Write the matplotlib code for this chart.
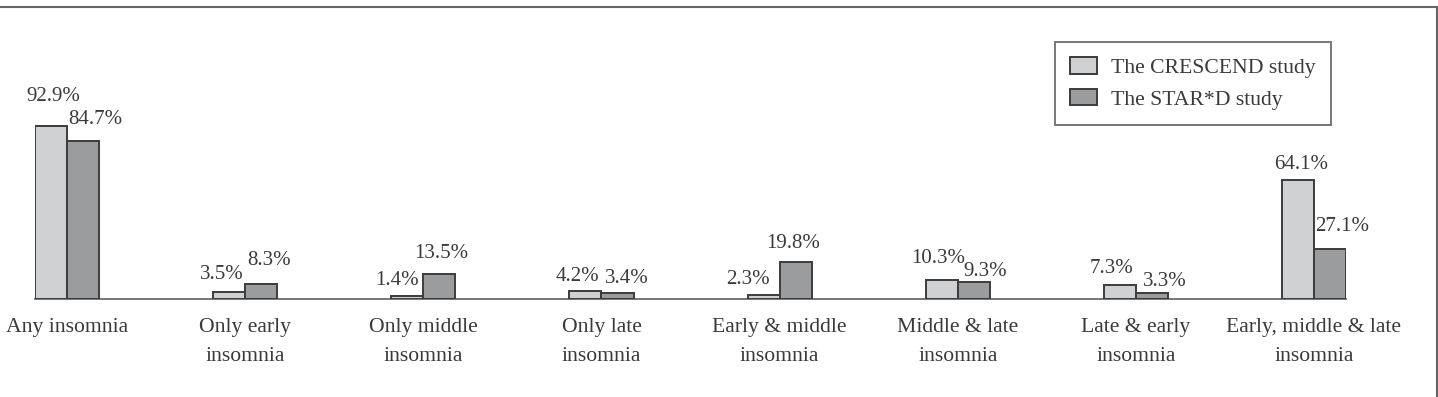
import matplotlib
matplotlib.use("Agg")
import matplotlib.pyplot as plt
from matplotlib.lines import Line2D
import numpy as np

categories = ["Any insomnia", "Only early\ninsomnia", "Only middle\ninsomnia", "Only late\ninsomnia",
              "Early & middle\ninsomnia", "Middle & late\ninsomnia", "Late & early\ninsomnia",
              "Early, middle & late\ninsomnia"]
crescend = [92.9, 3.5, 1.4, 4.2, 2.3, 10.3, 7.3, 64.1]
stard = [84.7, 8.3, 13.5, 3.4, 19.8, 9.3, 3.3, 27.1]
series_names = ["The CRESCEND study", "The STAR*D study"]

# label offsets (pixels) relative to bar top centre
crescend_off = [(2, 30), (-7, 18), (-10, 16), (-8, 15), (-16, 15), (-3, 21), (-8, 17), (3, 15)]
stard_off = [(12, 22), (8, 23), (2, 20), (9, 14), (-2, 19), (11, 10), (13, 11), (12, 22)]

W, H = 1438, 397
fig = plt.figure(figsize=(W / 100, H / 100), dpi=100)
plt.rcParams['font.family'] = ['Liberation Serif', 'DejaVu Serif']
txt = '#3a3a3a'

bw = 0.18
ax_left, ax_right = 35 / W, 1346 / W
ax_bottom = 1 - 299 / H
ax_top = 1 - 113 / H
ax = fig.add_axes([ax_left, ax_bottom, ax_right - ax_left, ax_top - ax_bottom])

x = np.arange(len(categories))
b1 = ax.bar(x - bw / 2, crescend, bw, color='#d0d1d3', edgecolor='#3c3c3c', linewidth=1.4,
            label=series_names[0], zorder=3)
b2 = ax.bar(x + bw / 2, stard, bw, color='#9b9c9e', edgecolor='#3c3c3c', linewidth=1.4,
            label=series_names[1], zorder=3)

for bars, vals, offs in ((b1, crescend, crescend_off), (b2, stard, stard_off)):
    for b, v, (dx, dy) in zip(bars, vals, offs):
        ax.annotate(f"{v:.1f}%", xy=(b.get_x() + b.get_width() / 2, v), xytext=(dx, dy),
                    textcoords='offset pixels', ha='center', va='center', fontsize=15,
                    color=txt, annotation_clip=False)

ax.set_xlim(-bw, len(categories) - 1 + bw)
ax.set_ylim(0, 100)
for s in ['top', 'right', 'left']:
    ax.spines[s].set_visible(False)
ax.spines['bottom'].set_color('#777777')
ax.spines['bottom'].set_linewidth(1.4)
ax.set_yticks([])
ax.set_xticks(x)
ax.set_xticklabels(categories, fontsize=15.6, color=txt, linespacing=1.7)
ax.tick_params(axis='x', length=0, pad=14)
ax.patch.set_visible(False)

leg = fig.legend(handles=[b1, b2], labels=series_names, loc='upper left',
                 bbox_to_anchor=(1055 / W, 1 - 42 / H), bbox_transform=fig.transFigure,
                 fontsize=15.6, frameon=True, fancybox=False, edgecolor='#555555',
                 handlelength=1.25, handleheight=0.8, handletextpad=0.65, labelspacing=0.5,
                 borderpad=0.7, borderaxespad=0)
leg.get_frame().set_linewidth(1.4)
for t in leg.get_texts():
    t.set_color(txt)

ytop = 1 - 7 / H
xr = 1437 / W
fig.add_artist(Line2D([0, xr], [ytop, ytop], color='#666666', lw=1.5, transform=fig.transFigure))
fig.add_artist(Line2D([xr, xr], [0, ytop], color='#666666', lw=1.5, transform=fig.transFigure))

fig.savefig("out.png", dpi=100)
